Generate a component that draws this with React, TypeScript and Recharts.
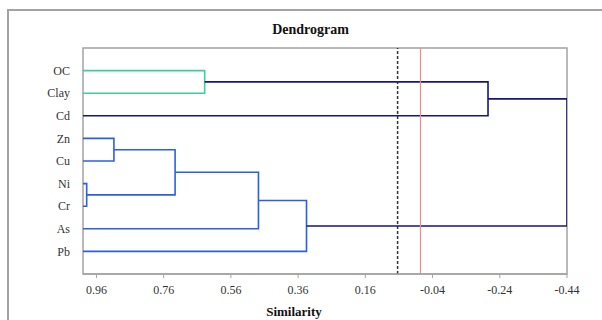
import React from "react";
import { LineChart, Line, XAxis, YAxis, ReferenceLine, ReferenceArea } from "recharts";

// leaves, top to bottom
const leafLabels = ["OC", "Clay", "Cd", "Zn", "Cu", "Ni", "Cr", "As", "Pb"];

// linkage: merge k creates node 9 + k
const mergeLeft = [5, 3, 10, 0, 11, 13, 12, 15];
const mergeRight = [6, 4, 9, 1, 7, 8, 2, 14];
const mergeSimilarity = [0.989, 0.908, 0.726, 0.638, 0.478, 0.335, -0.205, -0.44];
const mergeCluster = ["blue", "blue", "blue", "green", "blue", "blue", "navy", "navy"];

const xTicks = [0.96, 0.76, 0.56, 0.36, 0.16, -0.04, -0.24, -0.44];
const truncationLevel = 0.064;
const zeroLevel = -0.004;

const COLORS: Record<string, string> = {
  green: "#3ecf96",
  blue: "#2c5ee8",
  navy: "#16167f",
};

const X_MAX = 1.0;
const X_MIN = -0.44;

function buildBrackets() {
  const nodes = leafLabels.map((_, i) => ({ x: X_MAX, y: i }));
  return mergeSimilarity.map((sim, k) => {
    const a = nodes[mergeLeft[k]];
    const b = nodes[mergeRight[k]];
    nodes.push({ x: sim, y: (a.y + b.y) / 2 });
    return {
      color: COLORS[mergeCluster[k]],
      points: [
        { x: a.x, y: a.y },
        { x: sim, y: a.y },
        { x: sim, y: b.y },
        { x: b.x, y: b.y },
      ],
    };
  });
}

const brackets = buildBrackets();

const serif = "'Liberation Serif', 'Times New Roman', serif";

export default function App() {
  return (
    <div
      style={{
        position: "absolute",
        left: 0,
        top: 0,
        width: 602,
        height: 320,
        overflow: "hidden",
        background: "#fff",
        fontFamily: serif,
      }}
    >
      <div
        style={{
          position: "absolute",
          left: 7,
          top: 9,
          width: 800,
          height: 500,
          borderLeft: "2px solid #a3a3a3",
          borderTop: "2px solid #a3a3a3",
        }}
      />
      <div
        style={{
          position: "absolute",
          left: 0,
          width: 621,
          top: 22,
          textAlign: "center",
          fontWeight: "bold",
          fontSize: 14,
          color: "#111",
        }}
      >
        Dendrogram
      </div>
      <div
        style={{
          position: "absolute",
          left: 0,
          width: 588,
          top: 304,
          textAlign: "center",
          fontWeight: "bold",
          fontSize: 13,
          color: "#111",
        }}
      >
        Similarity
      </div>
      <div style={{ position: "absolute", left: 0, top: 0 }}>
        <LineChart
          width={602}
          height={320}
          margin={{ top: 48, right: 35, bottom: 16, left: 0 }}
        >
          <XAxis
            dataKey="x"
            type="number"
            domain={[X_MIN, X_MAX]}
            reversed
            ticks={xTicks}
            tickFormatter={(v: number) => v.toFixed(2)}
            allowDataOverflow
            height={30}
            tickSize={4}
            tickMargin={7}
            axisLine={{ stroke: "#a3a3a3", strokeWidth: 1.5 }}
            tickLine={{ stroke: "#a3a3a3" }}
            tick={{ fill: "#333", fontSize: 12, fontFamily: serif }}
          />
          <YAxis
            type="number"
            domain={[-1, 9]}
            reversed
            ticks={leafLabels.map((_, i) => i)}
            tickFormatter={(v: number) => leafLabels[v] ?? ""}
            allowDataOverflow
            width={83}
            tickSize={11}
            tickMargin={2}
            axisLine={false}
            tickLine={false}
            tick={{ fill: "#333", fontSize: 12, fontFamily: serif }}
          />
          <ReferenceArea
            x1={X_MAX}
            x2={X_MIN}
            y1={-1}
            y2={9}
            fill="none"
            stroke="#a3a3a3"
            strokeWidth={1.5}
            ifOverflow="visible"
          />
          {brackets.map((b, i) => (
            <Line
              key={i}
              data={b.points}
              dataKey="y"
              type="linear"
              stroke={b.color}
              strokeWidth={1.6}
              dot={false}
              activeDot={false}
              isAnimationActive={false}
            />
          ))}
          <ReferenceLine
            x={truncationLevel}
            stroke="#333"
            strokeWidth={1.5}
            strokeDasharray="3 2"
          />
          <ReferenceLine x={zeroLevel} stroke="#f58a8a" strokeWidth={1.2} />
        </LineChart>
      </div>
    </div>
  );
}
